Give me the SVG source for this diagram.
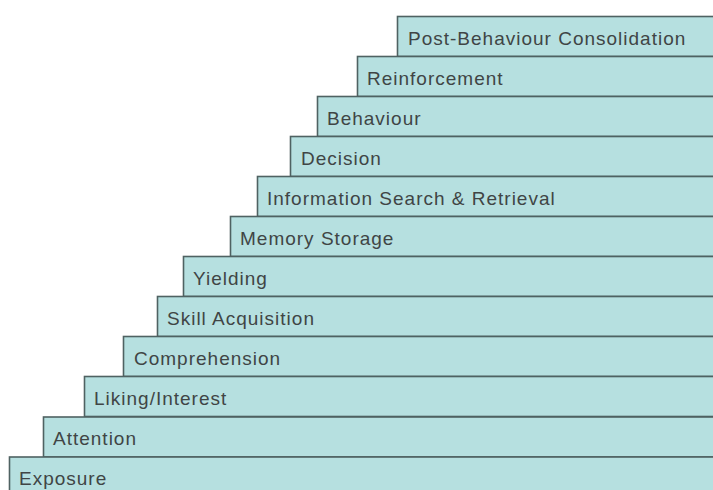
<svg xmlns="http://www.w3.org/2000/svg" width="713" height="490" viewBox="0 0 713 490">
  <style>
    .step { fill: #b6e0e0; stroke: #4f6262; stroke-width: 1.6; }
    .lbl { font-family: "Liberation Sans", Arial, sans-serif; font-size: 19px; letter-spacing: 1px; fill: #404545; }
  </style>
  <rect width="713" height="490" fill="#ffffff"/>
  <g id="post-behaviour-consolidation"><rect class="step" x="397.5" y="16.5" width="330" height="40"/><text class="lbl" x="408" y="45">Post-Behaviour Consolidation</text></g>
  <g id="reinforcement"><rect class="step" x="357.5" y="56.5" width="370" height="40"/><text class="lbl" x="367" y="85">Reinforcement</text></g>
  <g id="behaviour"><rect class="step" x="317.5" y="96.5" width="410" height="40"/><text class="lbl" x="327" y="125">Behaviour</text></g>
  <g id="decision"><rect class="step" x="290.5" y="136.5" width="440" height="40"/><text class="lbl" x="301" y="165">Decision</text></g>
  <g id="information-search"><rect class="step" x="257.5" y="176.5" width="470" height="40"/><text class="lbl" x="267" y="205">Information Search &amp; Retrieval</text></g>
  <g id="memory-storage"><rect class="step" x="230.5" y="216.5" width="500" height="40"/><text class="lbl" x="240" y="245">Memory Storage</text></g>
  <g id="yielding"><rect class="step" x="183.5" y="256.5" width="550" height="40"/><text class="lbl" x="193" y="285">Yielding</text></g>
  <g id="skill-acquisition"><rect class="step" x="157.5" y="296.5" width="570" height="40"/><text class="lbl" x="167" y="325">Skill Acquisition</text></g>
  <g id="comprehension"><rect class="step" x="123.5" y="336.5" width="610" height="40"/><text class="lbl" x="134" y="365">Comprehension</text></g>
  <g id="liking-interest"><rect class="step" x="84.5" y="376.5" width="650" height="40"/><text class="lbl" x="94" y="405">Liking/Interest</text></g>
  <g id="attention"><rect class="step" x="43.5" y="417" width="690" height="40"/><text class="lbl" x="53" y="445">Attention</text></g>
  <g id="exposure"><rect class="step" x="9.5" y="457" width="720" height="40"/><text class="lbl" x="19" y="485">Exposure</text></g>
</svg>
